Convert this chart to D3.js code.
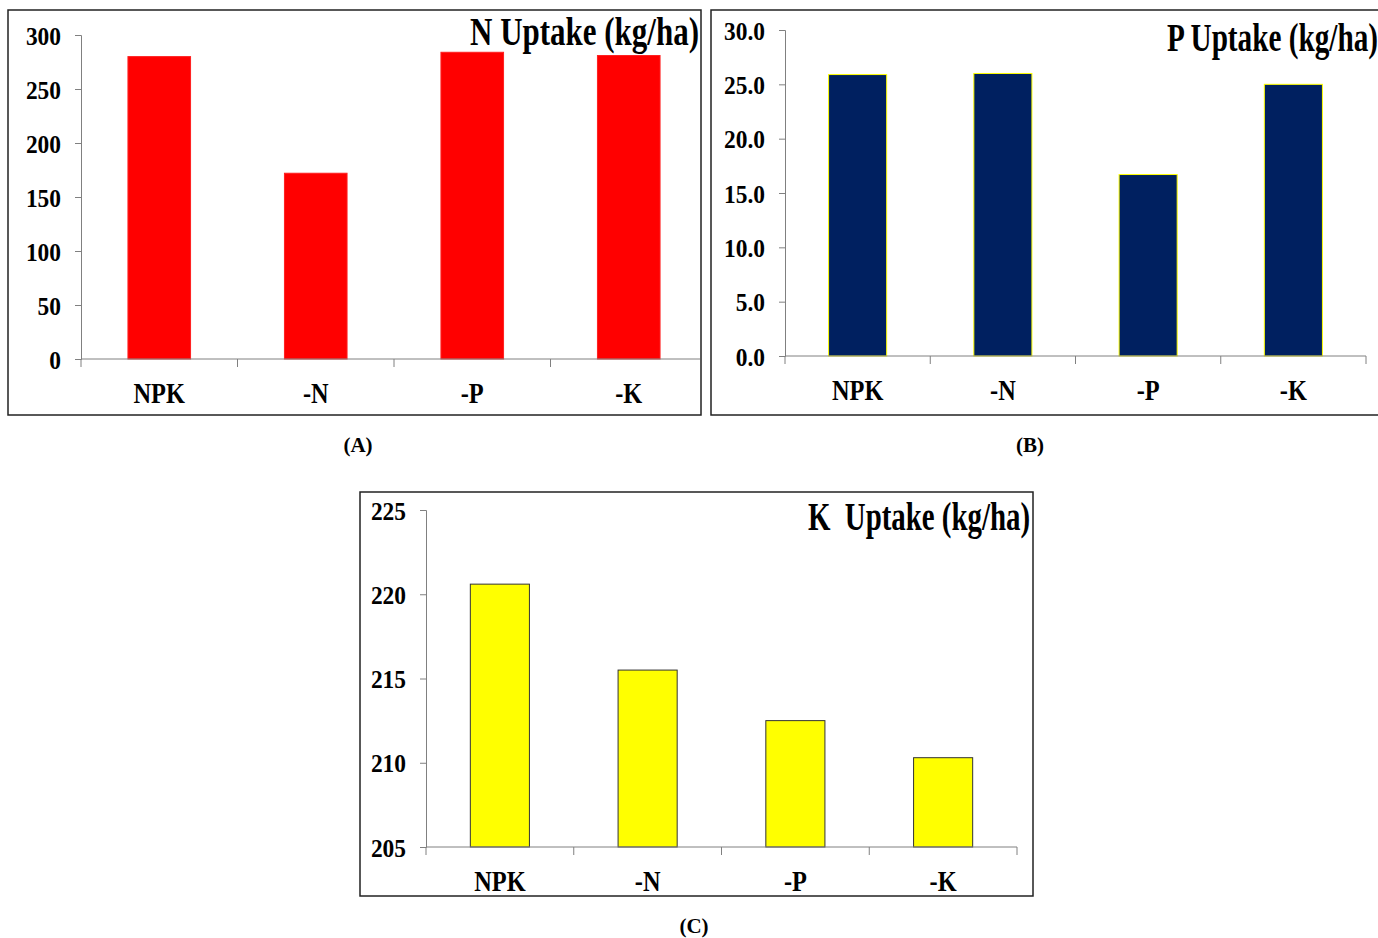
<!DOCTYPE html>
<html><head><meta charset="utf-8">
<script src="https://cdn.jsdelivr.net/npm/d3@7"></script>
<style>body{margin:0;background:#fff;overflow:hidden}text{font-family:"Liberation Serif","Times New Roman",serif;font-weight:bold;fill:#000}</style>
</head><body><svg id="c" width="1378" height="938"></svg>
<script>
const categories = ["NPK", "-N", "-P", "-K"];
const nUptake = [280, 172, 284, 281];
const pUptake = [25.9, 26.0, 16.7, 25.0];
const kUptake = [220.6, 215.5, 212.5, 210.3];
const nTicks = [0, 50, 100, 150, 200, 250, 300];
const pTicks = [0, 5, 10, 15, 20, 25, 30];
const kTicks = [205, 210, 215, 220, 225];
const titles = ["N Uptake (kg/ha)", "P Uptake (kg/ha)", "K  Uptake (kg/ha)"];
const captions = ["(A)", "(B)", "(C)"];

const svg = d3.select("#c");

function squeeze(sel, sx) {
  sel.each(function () {
    const w = this.getComputedTextLength();
    d3.select(this).attr("textLength", w * sx).attr("lengthAdjust", "spacingAndGlyphs");
  });
}

const panels = [
  { values: nUptake, ticks: nTicks, domain: [0, 300], fmt: d3.format("d"), title: titles[0], caption: captions[0],
    frame: [8, 10, 693, 405], xr: [81, 707], axisEnd: 700, yr: [359, 35], fill: "#FF0000", stroke: "#FF2020",
    titleX: 699, titleY: 45, titleW: 229, capX: 358, capY: 452 },
  { values: pUptake, ticks: pTicks, domain: [0, 30], fmt: d3.format(".1f"), title: titles[1], caption: captions[1],
    frame: [711, 10, 700, 405], xr: [785, 1366], axisEnd: 1366, yr: [356, 30], fill: "#002060", stroke: "#FFFF00",
    titleX: 1167, titleY: 51, titleW: 211, anchorStart: true, capX: 1030, capY: 452 },
  { values: kUptake, ticks: kTicks, domain: [205, 225], fmt: d3.format("d"), title: titles[2], caption: captions[2],
    frame: [360, 492, 673, 404], xr: [426, 1017], axisEnd: 1017, yr: [847, 510], fill: "#FFFF00", stroke: "#333333",
    titleX: 1030, titleY: 530, titleW: 222, capX: 694, capY: 933 }
];

panels.forEach(p => {
  const g = svg.append("g");
  g.append("rect").attr("x", p.frame[0]).attr("y", p.frame[1]).attr("width", p.frame[2]).attr("height", p.frame[3])
    .attr("fill", "none").attr("stroke", "#222").attr("stroke-width", 1.5);

  const x = d3.scaleBand().domain(categories).range(p.xr).paddingInner(0.6).paddingOuter(0.3);
  const y = d3.scaleLinear().domain(p.domain).range(p.yr);

  // bars
  g.selectAll("rect.bar").data(p.values).join("rect").attr("class", "bar")
    .attr("x", (d, i) => x(categories[i]))
    .attr("width", x.bandwidth())
    .attr("y", d => y(d))
    .attr("height", d => y(p.domain[0]) - y(d))
    .attr("fill", p.fill).attr("stroke", p.stroke).attr("stroke-width", 1);

  // y axis
  const ya = g.append("g").attr("transform", `translate(${p.xr[0]},0)`)
    .call(d3.axisLeft(y).tickValues(p.ticks).tickFormat(p.fmt).tickSize(6).tickPadding(14));
  ya.select(".domain").attr("stroke", "#808080");
  ya.selectAll(".tick line").attr("stroke", "#808080");
  ya.selectAll(".tick text").attr("font-size", 26).attr("dy", "0.35em");
  squeeze(ya.selectAll(".tick text"), 0.9);

  // x axis line
  g.append("line").attr("x1", p.xr[0]).attr("x2", p.axisEnd).attr("y1", y(p.domain[0])).attr("y2", y(p.domain[0]))
    .attr("stroke", "#808080").attr("stroke-width", 1);
  // category boundary ticks
  const bounds = d3.range(categories.length + 1).map(i => p.xr[0] + i * x.step()).filter(v => v <= p.axisEnd + 0.5);
  g.selectAll("line.bt").data(bounds).join("line").attr("class", "bt")
    .attr("x1", d => d).attr("x2", d => d).attr("y1", y(p.domain[0])).attr("y2", y(p.domain[0]) + 8)
    .attr("stroke", "#808080");
  // category labels
  const xl = g.selectAll("text.xl").data(categories).join("text").attr("class", "xl")
    .attr("x", d => x(d) + x.bandwidth() / 2).attr("y", y(p.domain[0]) + 44)
    .attr("text-anchor", "middle").attr("font-size", 29).text(d => d);
  squeeze(xl, 0.84);

  // title
  g.append("text").attr("x", p.titleX).attr("y", p.titleY)
    .attr("text-anchor", p.anchorStart ? "start" : "end").attr("font-size", 40)
    .style("white-space", "pre").text(p.title)
    .attr("textLength", p.titleW).attr("lengthAdjust", "spacingAndGlyphs");

  // caption
  svg.append("text").attr("x", p.capX).attr("y", p.capY).attr("text-anchor", "middle")
    .attr("font-size", 21).text(p.caption);
});
</script></body></html>
